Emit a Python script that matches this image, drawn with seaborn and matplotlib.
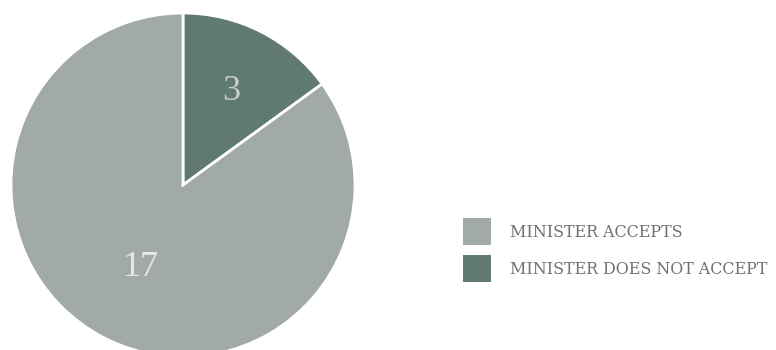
import matplotlib
matplotlib.use("Agg")
import matplotlib.pyplot as plt
from matplotlib.patches import Rectangle
import seaborn as sns

categories = ["MINISTER ACCEPTS", "MINISTER DOES NOT ACCEPT"]
values = [17, 3]
colors = ["#a2aaa5", "#617a70"]
label_colors = ["#e6e8e6", "#c9ccc9"]

sns.set_theme(style="white")
plt.rcParams["font.family"] = ["Liberation Serif", "DejaVu Serif"]

fig = plt.figure(figsize=(7.76, 3.5), dpi=100)
W, H = 776, 350
# pie axes placed so the circle spans x 11..355, y 13..357 (px, top-down)
ax = fig.add_axes([11 / W, (H - 357) / H, 344 / W, 344 / H])

# draw "does not accept" first, starting at 12 o'clock and going clockwise
order = [1, 0]
vals = [values[i] for i in order]
cols = [colors[i] for i in order]
wedges, texts, autotexts = ax.pie(
    vals,
    colors=cols,
    startangle=90,
    counterclock=False,
    radius=1.0,
    wedgeprops=dict(edgecolor="white", linewidth=2),
    autopct=lambda p: f"{round(p * sum(vals) / 100):d}",
    pctdistance=0.6,
    textprops=dict(fontsize=26),
)
radial = {0: 0.9, 1: 1.02}
for t, i in zip(autotexts, order):
    t.set_color(label_colors[i])
    x, y = t.get_position()
    t.set_position((x * radial[i], y * radial[i]))
ax.set_xlim(-1, 1)
ax.set_ylim(-1, 1)
ax.set_aspect("equal")
ax.axis("off")

# legend: swatches and small-caps style labels
sw_left, sw_w, sw_h = 463, 28, 27
rows_top = [218, 255]
for i, top in enumerate(rows_top):
    fig.patches.append(Rectangle(
        (sw_left / W, 1 - (top + sw_h) / H), sw_w / W, sw_h / H,
        transform=fig.transFigure, facecolor=colors[i], edgecolor="none"))
    fig.text(510 / W, 1 - (top + sw_h / 2 + 1) / H, categories[i],
             family="DejaVu Serif", fontsize=11.4, color="#707070",
             ha="left", va="center")

fig.savefig("out.png", dpi=100)
